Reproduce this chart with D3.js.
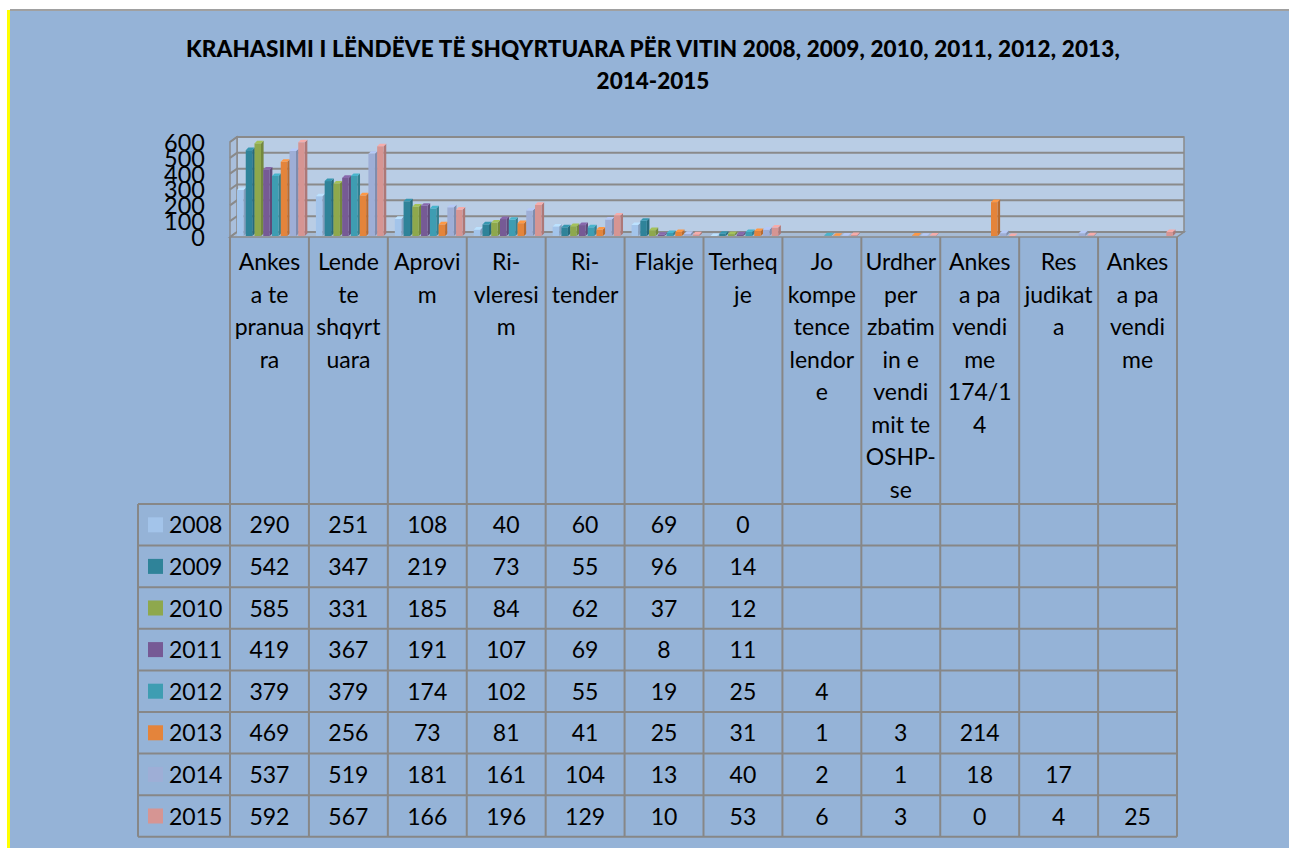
<!DOCTYPE html>
<html>
<head>
<meta charset="utf-8"/>
<title>Krahasimi i lendeve</title>
<style>
  body { margin: 0; background: #fff; }
  svg text { font-family: Lato, "Open Sans", sans-serif; fill: #000; }
</style>
</head>
<body>
<svg id="chart" width="1289" height="848"></svg>
<script src="https://cdn.jsdelivr.net/npm/d3@7"></script>
<script>
// categories (full names) and how they wrap in the table header
var categories = [
  "Ankesa te pranuara", "Lende te shqyrtuara", "Aprovim", "Ri-vleresim", "Ri-tender",
  "Flakje", "Terheqje", "Jo kompetence lendore", "Urdher per zbatimin e vendimit te OSHP-se",
  "Ankesa pa vendime 174/14", "Res judikata", "Ankesa pa vendime"
];
var categoryLines = [
  ["Ankes", "a te", "pranua", "ra"],
  ["Lende", "te", "shqyrt", "uara"],
  ["Aprovi", "m"],
  ["Ri-", "vleresi", "m"],
  ["Ri-", "tender"],
  ["Flakje"],
  ["Terheq", "je"],
  ["Jo", "kompe", "tence", "lendor", "e"],
  ["Urdher", "per", "zbatim", "in e", "vendi", "mit te", "OSHP-", "se"],
  ["Ankes", "a pa", "vendi", "me", "174/1", "4"],
  ["Res", "judikat", "a"],
  ["Ankes", "a pa", "vendi", "me"]
];
var years = ["2008", "2009", "2010", "2011", "2012", "2013", "2014", "2015"];
var yearColors = ["#a3c4ea", "#2f8399", "#8ea84d", "#765a95", "#3e9db2", "#e4843b", "#9eaed6", "#d69593"];

var v2008 = [290, 251, 108, 40, 60, 69, 0, null, null, null, null, null];
var v2009 = [542, 347, 219, 73, 55, 96, 14, null, null, null, null, null];
var v2010 = [585, 331, 185, 84, 62, 37, 12, null, null, null, null, null];
var v2011 = [419, 367, 191, 107, 69, 8, 11, null, null, null, null, null];
var v2012 = [379, 379, 174, 102, 55, 19, 25, 4, null, null, null, null];
var v2013 = [469, 256, 73, 81, 41, 25, 31, 1, 3, 214, null, null];
var v2014 = [537, 519, 181, 161, 104, 13, 40, 2, 1, 18, 17, null];
var v2015 = [592, 567, 166, 196, 129, 10, 53, 6, 3, 0, 4, 25];
var series = [v2008, v2009, v2010, v2011, v2012, v2013, v2014, v2015];

var yTicks = [0, 100, 200, 300, 400, 500, 600];
var title1 = "KRAHASIMI I LËNDËVE TË SHQYRTUARA PËR VITIN 2008, 2009, 2010, 2011, 2012, 2013,";
var title2 = "2014-2015";

var svg = d3.select("#chart");
var bg = "#95b3d7", wall = "#b9cde5", gridC = "#8a8a8a", lineC = "#878787";

// frame
svg.append("rect").attr("x", 10).attr("y", 10).attr("width", 1279).attr("height", 838).attr("fill", bg);
svg.append("line").attr("x1", 10).attr("x2", 1289).attr("y1", 10).attr("y2", 10).attr("stroke", "#a0a0a0").attr("stroke-width", 2);
svg.append("rect").attr("x", 7).attr("y", 10).attr("width", 3).attr("height", 838).attr("fill", "#ffff00");

svg.append("text").attr("x", 653).attr("y", 57).attr("text-anchor", "middle")
  .style("font-weight", "900").style("font-size", "22.5px").style("letter-spacing", "0.15px").text(title1);
svg.append("text").attr("x", 653).attr("y", 89).attr("text-anchor", "middle")
  .style("font-weight", "900").style("font-size", "22.5px").text(title2);

// scales
var tableLeft = 230, tableRight = 1177;
var x = d3.scaleBand().domain(categories).range([tableLeft, tableRight]);
var xs = d3.scaleBand().domain(years).range([7, 77]);
var y = d3.scaleLinear().domain([0, 600]).range([237, 142]);
var dx = 7, dy = -5;

// 3D walls
var gWall = svg.append("g");
gWall.append("rect").attr("x", tableLeft + dx).attr("y", y(600) + dy)
  .attr("width", tableRight - tableLeft).attr("height", y(0) - y(600))
  .attr("fill", wall).attr("stroke", gridC).attr("stroke-width", 1.5);
gWall.append("polygon")
  .attr("points", [[tableLeft, y(600)], [tableLeft + dx, y(600) + dy], [tableLeft + dx, y(0) + dy], [tableLeft, y(0)]].join(" "))
  .attr("fill", "#a9bfdc").attr("stroke", gridC).attr("stroke-width", 1.5);
gWall.append("polygon")
  .attr("points", [[tableLeft, y(0)], [tableLeft + dx, y(0) + dy], [tableRight + dx, y(0) + dy], [tableRight, y(0)]].join(" "))
  .attr("fill", "#a7bcd6").attr("stroke", gridC).attr("stroke-width", 1.5);

gWall.selectAll("polyline.grid").data(yTicks).enter().append("polyline")
  .attr("class", "grid")
  .attr("points", function(t) { return [[tableLeft, y(t)], [tableLeft + dx, y(t) + dy], [tableRight + dx, y(t) + dy]].join(" "); })
  .attr("fill", "none").attr("stroke", gridC).attr("stroke-width", 2);

// y axis labels
var yAxis = svg.append("g").attr("transform", "translate(215,0)")
  .call(d3.axisLeft(y).tickValues(yTicks).tickSize(0).tickPadding(10).tickFormat(d3.format("d")));
yAxis.select(".domain").remove();
yAxis.selectAll("text").style("font-family", "Lato, sans-serif").style("font-size", "23.5px").attr("dy", "0.36em");

// 3D bars
var bw = 6.5, bd = 2.6;
function shade(c, k) { return d3.color(c).darker(k).formatHex(); }
var bars = [];
series.forEach(function(vals, si) {
  vals.forEach(function(v, ci) {
    if (v === null) return;
    bars.push({ year: years[si], color: yearColors[si], cat: categories[ci], value: v });
  });
});
var gb = svg.append("g").selectAll("g").data(bars).enter().append("g");
gb.each(function(d) {
  var g = d3.select(this);
  var x0 = x(d.cat) + xs(d.year), top = y(d.value) - 1, bot = 236;
  g.append("polygon")
    .attr("points", [[x0 + bw, top], [x0 + bw + bd, top - bd], [x0 + bw + bd, bot - bd], [x0 + bw, bot]].join(" "))
    .attr("fill", shade(d.color, 0.6));
  g.append("rect").attr("x", x0).attr("y", top).attr("width", bw).attr("height", Math.max(0, bot - top))
    .attr("fill", d.color);
  g.append("polygon")
    .attr("points", [[x0, top], [x0 + bd, top - bd], [x0 + bw + bd, top - bd], [x0 + bw, top]].join(" "))
    .attr("fill", d3.color(d.color).brighter(0.4).formatHex());
});

// data table
var rowTop = 504, rowH = 41.6, legendLeft = 138;
var rowY = function(i) { return rowTop + i * rowH; };
var gt = svg.append("g");

gt.selectAll("line.h").data(d3.range(years.length + 1)).enter().append("line")
  .attr("x1", legendLeft).attr("x2", tableRight)
  .attr("y1", function(i) { return rowY(i); }).attr("y2", function(i) { return rowY(i); })
  .attr("stroke", lineC).attr("stroke-width", 2);
gt.append("line").attr("x1", legendLeft).attr("x2", legendLeft)
  .attr("y1", rowTop).attr("y2", rowY(years.length)).attr("stroke", lineC).attr("stroke-width", 2);
var colEdges = categories.map(function(c) { return x(c); }).concat([tableRight]);
gt.selectAll("line.v").data(colEdges).enter().append("line")
  .attr("x1", function(d) { return d; }).attr("x2", function(d) { return d; })
  .attr("y1", 237).attr("y2", rowY(years.length))
  .attr("stroke", lineC).attr("stroke-width", 2);

// category header labels
categories.forEach(function(c, ci) {
  gt.selectAll(null).data(categoryLines[ci]).enter().append("text")
    .attr("x", x(c) + x.bandwidth() / 2)
    .attr("y", function(d, i) { return 270 + i * 32.5; })
    .attr("text-anchor", "middle").style("font-size", "23px")
    .text(function(d) { return d; });
});

// legend keys
years.forEach(function(yr, si) {
  gt.append("rect").attr("x", 148).attr("y", rowY(si) + rowH / 2 - 7.5).attr("width", 15).attr("height", 15)
    .attr("fill", yearColors[si]);
  gt.append("text").attr("x", 169).attr("y", rowY(si) + rowH / 2 + 8.5).style("font-size", "23px").text(yr);
  series[si].forEach(function(v, ci) {
    if (v === null) return;
    gt.append("text").attr("x", x(categories[ci]) + x.bandwidth() / 2).attr("y", rowY(si) + rowH / 2 + 8.5)
      .attr("text-anchor", "middle").style("font-size", "23px").text(v);
  });
});
</script>
</body>
</html>
